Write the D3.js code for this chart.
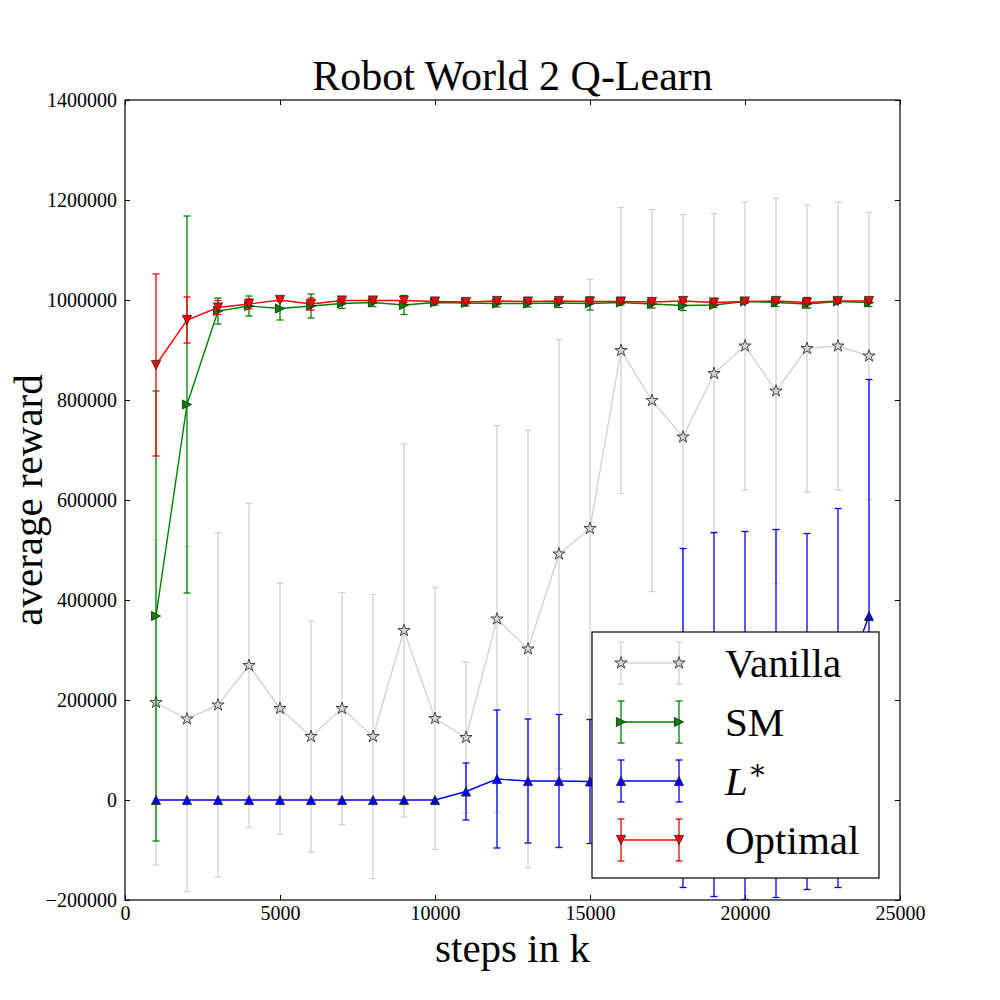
<!DOCTYPE html>
<html>
<head>
<meta charset="utf-8">
<script src="https://cdn.jsdelivr.net/npm/d3@7"></script>
<style>
  body { margin: 0; background: #fff; }
  text { font-family: "Liberation Serif", "DejaVu Serif", serif; }
</style>
</head>
<body>
<script>
// values
var steps = [1000,2000,3000,4000,5000,6000,7000,8000,9000,10000,11000,12000,
	13000,14000,15000,16000,17000,18000,19000,20000,21000,22000,23000,24000];

var vanillaMean = [195000,162000,190000,269000,183000,127000,183000,127000,339000,163000,125000,362000,
	302000,492000,543000,899000,799000,726000,853000,908000,818000,903000,908000,888000];
var vanillaErr = [325000,345000,344000,324000,251000,231000,232000,284000,373000,262000,151000,387000,
	437000,429000,498000,286000,382000,445000,320000,288000,385000,287000,288000,287000];

var smMean = [368000,791000,978000,988000,983000,988000,993000,995000,990000,995000,994000,993000,
	993000,994000,993000,995000,992000,989000,990000,997000,995000,992000,997000,995000];
var smErr = [450000,377000,26000,20000,23000,24000,10000,8000,19000,5000,6000,7000,
	7000,9000,13000,5000,8000,10000,5000,4000,8000,8000,4000,8000];

var lstarMean = [0,0,0,0,0,0,0,0,0,0,17000,42000,
	38000,38000,37000,45000,70000,164000,171000,169000,173000,177000,204000,368000];
var lstarErr = [0,0,0,0,0,0,0,0,0,0,57000,138000,
	124000,133000,124000,140000,180000,339000,364000,368000,368000,356000,379000,473000];

var optMean = [870000,960000,985000,992000,1000000,992000,999000,999000,999000,997000,996000,998000,
	997000,998000,997000,997000,996000,998000,995000,997000,998000,995000,998000,998000];
var optErr = [182000,46000,14000,10000,3000,12000,3000,3000,4000,3000,3000,3000,
	3000,3000,3000,3000,3000,3000,3000,3000,3000,10000,3000,3000];

var xTicks = [0,5000,10000,15000,20000,25000];
var yTicks = [-200000,0,200000,400000,600000,800000,1000000,1200000,1400000];

var series = [
	{name:"Vanilla", mean:vanillaMean, err:vanillaErr, color:"#d3d3d3", marker:"star", fill:"#d3d3d3"},
	{name:"SM", mean:smMean, err:smErr, color:"#008000", marker:"right", fill:"#008000"},
	{name:"L*", mean:lstarMean, err:lstarErr, color:"#0000ff", marker:"up", fill:"#0000ff"},
	{name:"Optimal", mean:optMean, err:optErr, color:"#ff0000", marker:"down", fill:"#ff0000"}
];

var W = 1000, H = 1000;
var pL = 125, pR = 900, pT = 100, pB = 900;

var x = d3.scaleLinear().domain([0,25000]).range([pL,pR]);
var y = d3.scaleLinear().domain([-200000,1400000]).range([pB,pT]);

var svg = d3.select("body").append("svg")
	.attr("width", W)
	.attr("height", H);

// marker shapes, roughly like matplotlib
var r = 4.6;
var triUp = "M0," + (-r) + "L" + r + "," + r + "L" + (-r) + "," + r + "Z";
var starPath = d3.symbol().type(d3.symbolStar).size(46)();
function markerPath(m){
	if(m == "star") return starPath;
	return triUp;
}
function markerRot(m){
	if(m == "right") return 90;
	if(m == "down") return 180;
	return 0;
}

function drawSeries(g, s){
	var pts = steps.map(function(t,i){ return {x:t, m:s.mean[i], e:s.err[i]}; });
	var eb = g.append("g");
	pts.forEach(function(p){
		if(p.e <= 0) return;
		var cx = x(p.x), y1 = y(p.m + p.e), y2 = y(p.m - p.e);
		eb.append("line").attr("x1",cx).attr("x2",cx).attr("y1",y1).attr("y2",y2)
			.attr("stroke",s.color).attr("stroke-width",1.3);
		[y1,y2].forEach(function(yy){
			eb.append("line").attr("x1",cx-3.5).attr("x2",cx+3.5).attr("y1",yy).attr("y2",yy)
				.attr("stroke",s.color).attr("stroke-width",1.3);
		});
	});
	var line = d3.line().x(function(d){ return x(d.x); }).y(function(d){ return y(d.m); });
	g.append("path").datum(pts).attr("d",line)
		.attr("fill","none").attr("stroke",s.color).attr("stroke-width",1.4);
	g.selectAll("path.mk").data(pts).enter().append("path")
		.attr("class","mk")
		.attr("d", markerPath(s.marker))
		.attr("transform", function(d){ return "translate(" + x(d.x) + "," + y(d.m) + ")rotate(" + markerRot(s.marker) + ")"; })
		.attr("fill", s.fill)
		.attr("stroke", "#222")
		.attr("stroke-width", 0.8);
}

var plot = svg.append("g");
series.forEach(function(s){ drawSeries(plot.append("g"), s); });

// frame and inward ticks on all four sides
svg.append("rect").attr("x",pL).attr("y",pT).attr("width",pR-pL).attr("height",pB-pT)
	.attr("fill","none").attr("stroke","#000").attr("stroke-width",1.2);

var axB = d3.axisBottom(x).tickValues(xTicks).tickSizeInner(-5).tickSizeOuter(0).tickPadding(6).tickFormat(d3.format("d"));
var axT = d3.axisTop(x).tickValues(xTicks).tickSizeInner(-5).tickSizeOuter(0).tickFormat("");
var axL = d3.axisLeft(y).tickValues(yTicks).tickSizeInner(-5).tickSizeOuter(0).tickPadding(8)
	.tickFormat(function(d){ return d < 0 ? "\u2212" + Math.abs(d) : d; });
var axR = d3.axisRight(y).tickValues(yTicks).tickSizeInner(-5).tickSizeOuter(0).tickFormat("");

[[axB,"translate(0,"+pB+")"],[axT,"translate(0,"+pT+")"],
 [axL,"translate("+pL+",0)"],[axR,"translate("+pR+",0)"]].forEach(function(a){
	var g = svg.append("g").attr("transform",a[1]).call(a[0]);
	g.select(".domain").remove();
	g.selectAll("text").style("font-size","20px").attr("fill","#000").style("font-family","'Liberation Serif', serif");
});

// labels
svg.append("text").attr("x",(pL+pR)/2).attr("y",90).attr("text-anchor","middle")
	.style("font-size","42px").text("Robot World 2 Q-Learn");
svg.append("text").attr("x",(pL+pR)/2).attr("y",962).attr("text-anchor","middle")
	.style("font-size","41px").text("steps in k");
svg.append("text").attr("transform","translate(42," + (pT+pB)/2 + ")rotate(-90)")
	.attr("text-anchor","middle").style("font-size","41px").text("average reward");

// legend
var lg = svg.append("g");
lg.append("rect").attr("x",592).attr("y",632).attr("width",287).attr("height",246)
	.attr("fill","#fff").attr("stroke","#000").attr("stroke-width",1.2);
series.forEach(function(s,i){
	var ly = 663 + i*59;
	[621,679].forEach(function(lx){
		lg.append("line").attr("x1",lx).attr("x2",lx).attr("y1",ly-21).attr("y2",ly+21)
			.attr("stroke",s.color).attr("stroke-width",1.3);
		[ly-21,ly+21].forEach(function(yy){
			lg.append("line").attr("x1",lx-3.5).attr("x2",lx+3.5).attr("y1",yy).attr("y2",yy)
				.attr("stroke",s.color).attr("stroke-width",1.3);
		});
	});
	lg.append("line").attr("x1",621).attr("x2",679).attr("y1",ly).attr("y2",ly)
		.attr("stroke",s.color).attr("stroke-width",1.4);
	[621,679].forEach(function(lx){
		lg.append("path").attr("d",markerPath(s.marker))
			.attr("transform","translate(" + lx + "," + ly + ")rotate(" + markerRot(s.marker) + ")")
			.attr("fill",s.fill).attr("stroke","#222").attr("stroke-width",0.8);
	});
	var t = lg.append("text").attr("x",725).attr("y",ly+14).style("font-size","41px");
	if(s.name == "L*"){
		t.append("tspan").style("font-style","italic").text("L");
		t.append("tspan").attr("dy",-16).style("font-size","28px").text("\u2217");
	} else {
		t.text(s.name);
	}
});
</script>
</body>
</html>
